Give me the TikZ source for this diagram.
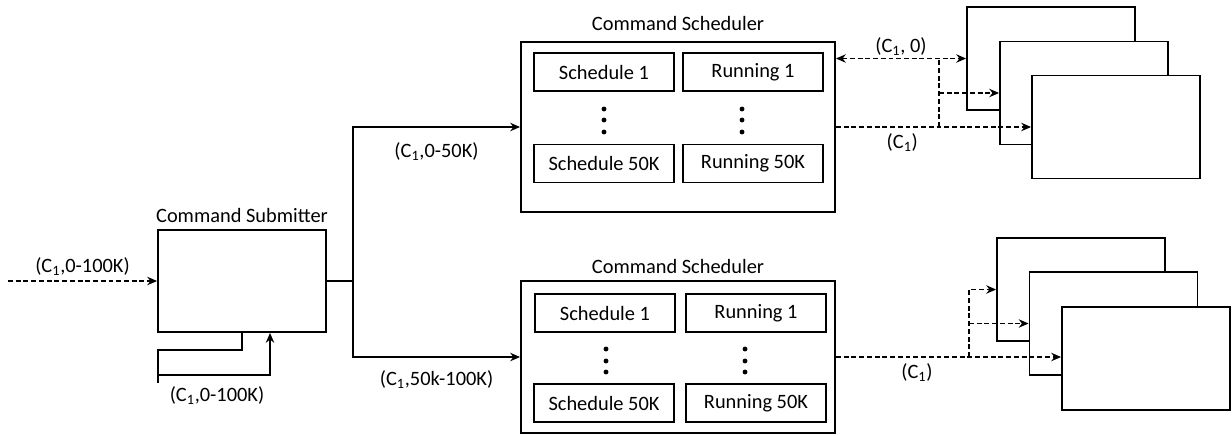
\documentclass[tikz,border=0pt]{standalone}
\usepackage{fontspec}
\setmainfont{Carlito}
\usetikzlibrary{positioning,calc,arrows.meta}

\begin{document}
\begin{tikzpicture}[x=0.025cm, y=-0.025cm,
    font=\fontsize{14.5}{17}\selectfont,
    bigbox/.style={draw, line width=1.3pt, fill=white, inner sep=0pt},
    slot/.style={draw, line width=0.8pt, minimum width=3.5cm, minimum height=0.95cm, inner sep=0pt},
    lbl/.style={inner sep=1.5pt},
    link/.style={line width=0.9pt},
    flow/.style={link, -{Stealth[length=7pt,width=6pt]}},
    dlink/.style={link, dash pattern=on 3.5pt off 2pt},
    dflow/.style={flow, dash pattern=on 3.5pt off 2pt},
    vdot/.style={circle, fill, inner sep=0pt, minimum size=3.5pt}]
    \useasboundingbox (0,0) rectangle (1232,435);

    % Submitter
    \node [bigbox, minimum width=4.2cm, minimum height=2.55cm] (sub) at (242,281) {};
    \node [above=0.03cm of sub] (subtitle) {Command Submitter};
    \coordinate (in) at (8,281);
    \draw [dflow] (in) -- node [lbl, above=2pt] {(C\textsubscript{1},0-100K)} (sub.west);

    % Feedback loop
    \coordinate (fbl) at (158,383);
    \coordinate (fbin) at (158,375);
    \draw [link] (sub.south) -- ++(0,17) -| (fbl);
    \draw [flow] (fbin) -| ([xshift=0.7cm]sub.south);
    \node [lbl] (fblab) at (217,396) {(C\textsubscript{1},0-100K)};

    % Scheduler A
    \node [bigbox, minimum width=7.85cm, minimum height=4.25cm] (schA) at (678,127) {};
    \node [above=0.13cm of schA] (schAtitle) {Command Scheduler};
    \node [slot] (sa) at (604,72) {Schedule 1};
    \node [slot] (ra) at (753,72) {Running 1};
    \node [slot] (sak) at (604,163.5) {Schedule 50K};
    \node [slot] (rak) at (753,163.5) {Running 50K};
    \foreach \y in {109,120,132} {
        \node [vdot] at (604,\y) {};
        \node [vdot] at (742,\y) {};
    }

    % Scheduler B
    \node [bigbox, minimum width=7.85cm, minimum height=3.8cm] (schB) at (678,357) {};
    \node [above=0.03cm of schB] (schBtitle) {Command Scheduler};
    \node [slot] (sb) at (605,313) {Schedule 1};
    \node [slot] (rb) at (756,313) {Running 1};
    \node [slot] (sbk) at (604,403) {Schedule 50K};
    \node [slot] (rbk) at (756,403) {Running 50K};
    \foreach \y in {349,361,372} {
        \node [vdot] at (606,\y) {};
        \node [vdot] at (745,\y) {};
    }

    % Split
    \coordinate (fork) at (353,281);
    \draw [link] (sub.east) -- (fork);
    \draw [flow] (fork) |- node [lbl, below=9pt, pos=0.75] {(C\textsubscript{1},0-50K)} (schA.west);
    \draw [flow] (fork) |- node [lbl, below=8pt, pos=0.75] {(C\textsubscript{1},50k-100K)} (schB.west);

    % Stacks
    \foreach \i/\x/\y in {1/1051/58.5, 2/1084/93, 3/1116/127}
        \node [bigbox, minimum width=4.2cm, minimum height=2.575cm] (ta\i) at (\x,\y) {};
    \foreach \i/\x/\y in {1/1081/289.5, 2/1113.5/323.5, 3/1146/358.5}
        \node [bigbox, minimum width=4.2cm, minimum height=2.575cm] (tb\i) at (\x,\y) {};

    % Dispatch A
    \coordinate (ja) at (939,127);
    \draw [dflow] (schA.east) -- node [lbl, below=3pt, pos=0.34] {(C\textsubscript{1})} (ta3.west |- schA.east);
    \draw [dflow, {Stealth[length=7pt,width=6pt]}-{Stealth[length=7pt,width=6pt]}] (ta1.west -| schA.east) -- node [lbl, above] {(C\textsubscript{1}, 0)} (ta1.west);
    \draw [dlink] (ja) -- (ja |- ta1.west);
    \draw [dflow] (ja |- ta2.west) -- (ta2.west);

    % Dispatch B
    \coordinate (jb) at (969,357);
    \draw [dflow] (schB.east) -- node [lbl, below=3pt, pos=0.36] {(C\textsubscript{1})} (tb3.west |- schB.east);
    \draw [dflow] (jb) |- (tb1.west);
    \draw [dflow] (jb |- tb2.west) -- (tb2.west);
\end{tikzpicture}
\end{document}
